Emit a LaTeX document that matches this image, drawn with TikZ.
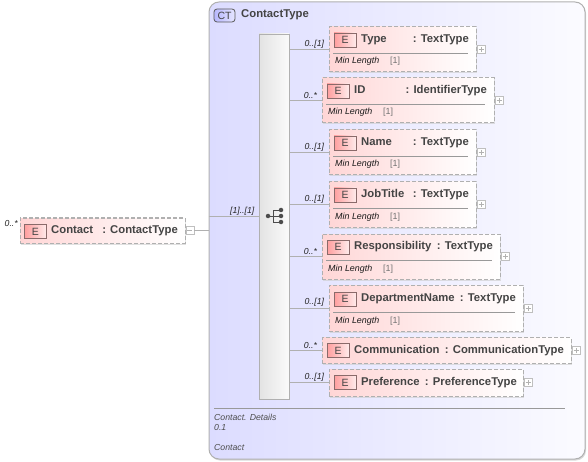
\documentclass[tikz,border=0pt]{standalone}
\usepackage{xcolor}
\usepackage{fontspec}
\setmainfont{Liberation Sans}
\usetikzlibrary{shadows,positioning}

\definecolor{ctleft}{HTML}{DCDCFF}
\definecolor{ctright}{HTML}{FBFBFF}
\definecolor{elemleft}{HTML}{FFD6D6}
\definecolor{edge}{HTML}{B0B0B0}
\definecolor{inktext}{HTML}{444444}
\definecolor{eedge}{HTML}{8A6A6A}

\begin{document}
\begin{tikzpicture}[
  x=1pt, y=-1pt,
  ctbox/.style={rectangle, draw=edge, line width=1pt, rounded corners=10pt, left color=ctleft, right color=ctright, minimum width=376pt, minimum height=457pt, inner sep=0pt, drop shadow={shadow xshift=1pt, shadow yshift=-1.5pt, fill=black!25, opacity=0.6}},
  ctbadge/.style={rectangle, draw=black!65, line width=0.8pt, rounded corners=3pt, left color=blue!28!white, right color=blue!10!white, minimum width=21pt, minimum height=13pt, inner sep=0pt, font=\fontsize{10.5}{12}\selectfont, text=inktext},
  choicebar/.style={rectangle, draw=edge, left color=black!11, right color=black!2, minimum width=30pt, minimum height=365pt, inner sep=0pt, drop shadow={shadow xshift=1pt, shadow yshift=-1pt, fill=black!20, opacity=0.6}},
  elem/.style={rectangle, draw=edge, line width=1pt, dash pattern=on 4pt off 2pt, left color=elemleft, right color=white, inner sep=0pt, drop shadow={shadow xshift=1pt, shadow yshift=-1.5pt, fill=black!20, opacity=0.6}},
  ebadge/.style={rectangle, draw=eedge, line width=0.9pt, left color=red!38!white, right color=red!8!white, minimum width=22pt, minimum height=14pt, inner sep=0pt, font=\fontsize{10.5}{12}\selectfont, text=inktext},
  ename/.style={anchor=base west, inner sep=0pt, font=\bfseries\fontsize{11.3}{13}\selectfont, text=inktext},
  etype/.style={anchor=base east, inner sep=0pt, font=\bfseries\fontsize{11.3}{13}\selectfont, text=inktext},
  facet/.style={anchor=base west, inner sep=0pt, font=\itshape\fontsize{8.9}{10}\selectfont, text=black!90},
  facetval/.style={anchor=base west, inner sep=0pt, font=\fontsize{8.9}{10}\selectfont, text=black!55},
  note/.style={anchor=base west, inner sep=0pt, font=\itshape\fontsize{8.7}{10}\selectfont, text=black!70},
  card/.style={inner sep=1pt, font=\itshape\fontsize{8.7}{10}\selectfont, text=black!85},
  conn/.style={draw=edge, line width=1pt},
  sepline/.style={draw=black!40, line width=1pt},
  dot/.style={circle, fill=black!70, inner sep=0pt, minimum size=4.5pt},
  expandbox/.style={rectangle, draw=black!25, fill=white, minimum size=8pt, inner sep=0pt},
  plusbox/.style={expandbox, path picture={\draw[black!30] ([xshift=-2.5pt]path picture bounding box.center) -- ([xshift=2.5pt]path picture bounding box.center); \draw[black!30] ([yshift=-2.5pt]path picture bounding box.center) -- ([yshift=2.5pt]path picture bounding box.center);}},
  minusbox/.style={expandbox, path picture={\draw[black!30] ([xshift=-2.5pt]path picture bounding box.center) -- ([xshift=2.5pt]path picture bounding box.center);}}
]
\useasboundingbox (0,0) rectangle (588,462);

% complex type frame
\node[ctbox] (contacttype) at (397,230.5) {};
\node[ctbadge] (ctbadge) at (224.5,15.5) {CT};
\node[ename] (cttitle) at (241,18) {ContactType};
\node[choicebar] (choice) at (274,216.5) {};

% choice icon
\node[dot] (dotin) at (268,216) {};
\node[dot] (dota) at (281,210) {};
\node[dot] (dotb) at (281,216) {};
\node[dot] (dotc) at (281,222) {};
\draw[black!70] (dotin) -- (dotb);
\draw[black!70] (dota.west) -- ++(-5.5,0) -- ++(0,12) -- (dotc.west);

% root element
\node[elem, minimum width=165pt, minimum height=25pt] (contact) at (102.5,230.5) {};
\node[ebadge] (contactE) at (35.5,231.5) {E};
\node[ename] (contactname) at (51,233.5) {Contact};
\node[etype] (contacttypename) at (178,233.5) {: ContactType};
\node[minusbox, right=0pt of contact] (contactminus) {};
\node[card, anchor=east] (contactcard) at (19,224) {0..*};
\draw[conn] (contactminus) -- (contactminus -| contacttype.west);
\draw[conn] (contacttype.west |- choice) -- node[card, pos=1, anchor=south east, xshift=-3pt] {[1]..[1]} (choice.west);

% Type
\node[elem, minimum width=147pt, minimum height=45pt] (typebox) at (402.5,49.5) {};
\node[ebadge] (typeE) at (345,40) {E};
\node[ename] (typename) at (361,42.5) {Type};
\node[etype] (typetype) at (469,42.5) {: TextType};
\draw[sepline] (333,53.5) -- (468,53.5);
\node[facet] (typefacet) at (335,64) {Min Length};
\node[facetval] (typeval) at (390,64) {[1]};
\node[plusbox, right=0.5pt of typebox] (typeplus) {};
\draw[conn] (choice.east |- typebox) -- node[card, pos=1, anchor=south east, xshift=-3pt] {0..[1]} (typebox.west);

% ID
\node[elem, minimum width=172pt, minimum height=45pt] (idbox) at (408,100.5) {};
\node[ebadge] (idE) at (338,91) {E};
\node[ename] (idname) at (354,93.5) {ID};
\node[etype] (idtype) at (487,93.5) {: IdentifierType};
\draw[sepline] (326,104.5) -- (485,104.5);
\node[facet] (idfacet) at (328,115) {Min Length};
\node[facetval] (idval) at (383,115) {[1]};
\node[plusbox, right=0.5pt of idbox] (idplus) {};
\draw[conn] (choice.east |- idbox) -- node[card, pos=1, anchor=south east, xshift=-3pt] {0..*} (idbox.west);

% Name
\node[elem, minimum width=147pt, minimum height=45pt] (namebox) at (402.5,152.5) {};
\node[ebadge] (nameE) at (345,143) {E};
\node[ename] (namename) at (361,145.5) {Name};
\node[etype] (nametype) at (469,145.5) {: TextType};
\draw[sepline] (333,156.5) -- (468,156.5);
\node[facet] (namefacet) at (335,167) {Min Length};
\node[facetval] (nameval) at (390,167) {[1]};
\node[plusbox, right=0.5pt of namebox] (nameplus) {};
\draw[conn] (choice.east |- namebox) -- node[card, pos=1, anchor=south east, xshift=-3pt] {0..[1]} (namebox.west);

% JobTitle
\node[elem, minimum width=147pt, minimum height=45pt] (jobbox) at (402.5,204.5) {};
\node[ebadge] (jobE) at (345,195) {E};
\node[ename] (jobname) at (361,197.5) {JobTitle};
\node[etype] (jobtype) at (469,197.5) {: TextType};
\draw[sepline] (333,208.5) -- (468,208.5);
\node[facet] (jobfacet) at (335,219) {Min Length};
\node[facetval] (jobval) at (390,219) {[1]};
\node[plusbox, right=0.5pt of jobbox] (jobplus) {};
\draw[conn] (choice.east |- jobbox) -- node[card, pos=1, anchor=south east, xshift=-3pt] {0..[1]} (jobbox.west);

% Responsibility
\node[elem, minimum width=178pt, minimum height=45pt] (respbox) at (411,256.5) {};
\node[ebadge] (respE) at (338,247) {E};
\node[ename] (respname) at (354,249.5) {Responsibility};
\node[etype] (resptype) at (493,249.5) {: TextType};
\draw[sepline] (326,260.5) -- (492,260.5);
\node[facet] (respfacet) at (328,271) {Min Length};
\node[facetval] (respval) at (383,271) {[1]};
\node[plusbox, right=0.5pt of respbox] (respplus) {};
\draw[conn] (choice.east |- respbox) -- node[card, pos=1, anchor=south east, xshift=-3pt] {0..*} (respbox.west);

% DepartmentName
\node[elem, minimum width=194pt, minimum height=46pt] (deptbox) at (426,308) {};
\node[ebadge] (deptE) at (345,299) {E};
\node[ename] (deptname) at (361,301.5) {DepartmentName};
\node[etype] (depttype) at (516,301.5) {: TextType};
\draw[sepline] (333,312.5) -- (515,312.5);
\node[facet] (deptfacet) at (335,323) {Min Length};
\node[facetval] (deptval) at (390,323) {[1]};
\node[plusbox, right=0.5pt of deptbox] (deptplus) {};
\draw[conn] (choice.east |- deptbox) -- node[card, pos=1, anchor=south east, xshift=-3pt] {0..[1]} (deptbox.west);

% Communication
\node[elem, minimum width=249pt, minimum height=26pt] (commbox) at (446.5,350.5) {};
\node[ebadge] (commE) at (338,350.5) {E};
\node[ename] (commname) at (354,353) {Communication};
\node[etype] (commtype) at (564,353) {: CommunicationType};
\node[plusbox, right=0.5pt of commbox] (commplus) {};
\draw[conn] (choice.east |- commbox) -- node[card, pos=1, anchor=south east, xshift=-3pt] {0..*} (commbox.west);

% Preference
\node[elem, minimum width=194pt, minimum height=27pt] (prefbox) at (426,382.5) {};
\node[ebadge] (prefE) at (345,382.5) {E};
\node[ename] (prefname) at (361,385) {Preference};
\node[etype] (preftype) at (517,385) {: PreferenceType};
\node[plusbox, right=0.5pt of prefbox] (prefplus) {};
\draw[conn] (choice.east |- prefbox) -- node[card, pos=1, anchor=south east, xshift=-3pt] {0..[1]} (prefbox.west);

% annotation
\draw[sepline] (214,408.5) -- (565,408.5);
\node[note] (notetitle) at (214,420) {Contact. Details};
\node[note] (noteversion) at (214,430) {0.1};
\node[note] (notename) at (214,450) {Contact};
\end{tikzpicture}
\end{document}
